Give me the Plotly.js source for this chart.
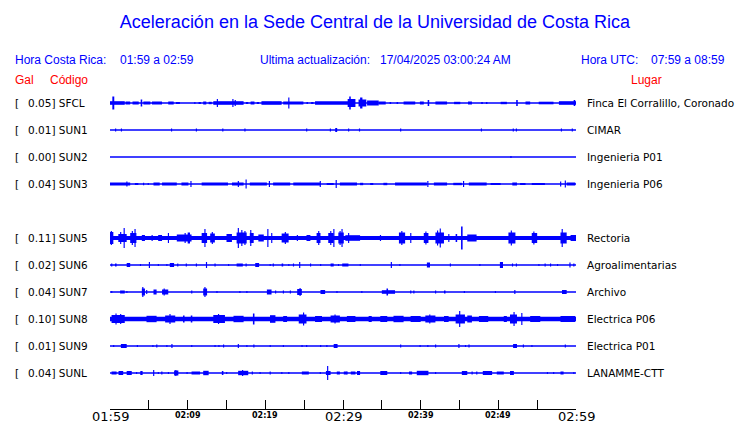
<!DOCTYPE html>
<html><head><meta charset="utf-8">
<script src="https://cdn.plot.ly/plotly-3.0.1.min.js"></script>
<style>html,body{margin:0;padding:0;background:#fff}#chart{width:740px;height:423px}</style>
</head><body><div id="chart"></div>
<script>
// ---------- data ----------
const codes = ["SFCL","SUN1","SUN2","SUN3","SUN5","SUN6","SUN7","SUN8","SUN9","SUNL"];
const galValues = [0.05,0.01,0.00,0.04,0.11,0.02,0.04,0.10,0.01,0.04];
const places = ["Finca El Corralillo, Coronado","CIMAR","Ingenieria P01","Ingenieria P06","Rectoria","Agroalimentarias","Archivo","Electrica P06","Electrica P01","LANAMME-CTT"];
const tickMinutes = [0,5,10,15,20,25,30,35,40,45,50,55,60];
const tickLabels = ["01:59","","02:09","","02:19","","02:29","","02:39","","02:49","","02:59"];
const majorLabels = ["01:59","02:29","02:59"];

// envelope segments: [start minute, end minute, half amplitude]
const sfcl = [[0,1.9,1.8],[0.3,0.55,6.5],[2.0,2.6,1.5],[2.9,3.7,1.5],[3.95,4.15,3.5],[4.3,5.2,1.5],[5.4,6.7,1.5],[7.5,8.2,1.5],[8.5,9.0,1],[10.85,11.0,1],[11.4,11.7,1],[12.0,12.4,1.5],[12.7,13.1,1.2],[13.3,17.2,1.8],[13.75,13.9,4],[15.75,15.9,4],[16.05,16.2,3],[17.5,17.8,1],[18.1,18.6,1.5],[18.9,19.2,1],[19.5,22.1,1.8],[22.3,24.9,1.5],[22.95,23.1,5.5],[25.3,25.5,1],[25.9,26.2,1],[26.4,31,1.8],[30.6,31.6,4],[30.8,31.0,6.5],[32.0,33.0,3.5],[32.2,32.5,5.5],[33.1,34.6,2.5],[34.6,35.5,1.5],[36.0,36.2,1],[36.9,37.1,1],[37.8,39.3,1.5],[39.9,40.4,1.5],[40.9,41.1,3],[41.9,43.4,1.5],[44.3,45.1,1.2],[46.1,46.6,1.5],[47.8,48.0,1],[48.4,48.6,1],[50.3,51.1,1.2],[52.3,52.5,3],[53.5,54.1,1.5],[55.2,57.1,1.3],[57.8,60,1.8],[59.7,59.9,3]];
const sun1 = [[0.65,0.8,1.5],[1.4,1.55,1.5],[7.85,8.0,1.5],[11.05,11.2,1.5],[14.45,14.6,1.5],[17.3,17.45,1.5],[25.25,25.4,1.5],[28.3,28.45,1.5],[29.0,29.25,2],[30.65,30.8,1.5],[32.05,32.2,1.5],[37.35,37.5,1.5],[47.75,47.9,1.5],[51.85,52.0,1.5],[52.25,52.4,1.5],[58.05,58.2,1.5],[59.45,59.6,1.5]];
const sun2 = [[51.55,51.7,1]];
const sun3 = [[0,2.6,1.5],[2.1,2.25,2.5],[3.2,3.65,1],[4.25,4.4,1.2],[4.85,5.0,1],[5.6,6.4,1.5],[6.7,8.6,1.5],[9.2,10.1,1.5],[10.35,10.5,3],[11.8,15.2,1.5],[15.7,17.2,1.5],[16.45,16.6,3],[17.45,17.6,4.5],[18.0,20.2,1.5],[20.45,20.6,3],[21.0,23.2,1.5],[23.6,27.1,1.5],[27.0,27.15,3],[27.9,28.8,1],[29.05,29.2,4],[29.6,31.8,1.5],[32.2,32.6,1.2],[33.5,33.9,1],[35.2,35.7,1.2],[36.7,40.8,1.5],[40.85,41.0,3],[41.7,43.4,1.5],[44.2,45.3,1.2],[45.45,45.6,3],[46.2,48.5,1.5],[49.0,50.3,1],[51.8,52.4,1.5],[52.8,53.5,1],[54.3,56.0,1],[57.95,58.1,2.5],[58.55,58.7,3.5],[58.8,59.9,1.5]];
const sun5 = [[0,60,2.0],[0,0.43,6],[0.1,0.25,7],[1.07,2.15,4],[1.75,1.9,10],[1.3,1.45,6],[2.6,3.4,5],[3.15,3.3,9],[2.8,2.95,7],[4.1,4.5,3],[5.35,5.5,3],[6.2,6.7,3],[7.45,7.6,5],[8.6,10.5,3.5],[9.6,9.75,5],[10.0,10.3,5.5],[11.8,12.5,5],[12.15,12.3,9],[12.9,13.5,4.5],[13.1,13.25,6],[15.0,15.7,4],[16.3,17.6,5.5],[16.45,16.6,10],[16.9,17.05,8],[17.3,17.45,7],[18.0,18.5,5],[18.05,18.2,8],[19.1,19.8,3.5],[20.25,20.4,9],[20.75,20.9,5],[22.1,23.0,4.5],[22.5,22.65,6],[24.05,24.2,3],[25.3,25.8,3],[26.6,27.1,5],[26.8,26.95,7],[28.1,28.8,5],[28.75,28.9,9],[28.35,28.5,7],[29.4,30.1,5.5],[29.8,29.95,9],[29.55,29.7,7],[30.65,30.8,5],[30.3,32.2,2.8],[34.75,34.9,3],[37.2,38.0,5.5],[37.5,37.65,7],[38.65,38.8,5],[40.4,41.0,5],[40.6,40.75,6.5],[41.9,43.0,5.5],[42.45,42.6,9.5],[42.1,42.25,7.5],[43.55,43.7,4],[44.5,44.7,4],[45.2,45.4,11.5],[46.0,47.2,3.5],[51.3,52.2,5.5],[51.6,51.75,7.5],[54.3,55.0,5],[54.5,54.65,6.5],[58.0,58.8,5.5],[58.15,58.3,9],[59.3,60,3]];
const sun6 = [[0.15,0.3,1.5],[0.65,0.85,1.5],[2.15,2.6,2],[3.85,4.0,1],[5.0,5.15,3],[6.15,6.3,1],[7.25,7.4,1],[7.7,8.25,2],[8.65,8.8,1.5],[9.75,9.9,1.5],[11.05,11.2,1.5],[12.35,12.5,3],[13.45,13.6,1.5],[15.2,15.35,1],[16.3,17.1,1.5],[17.45,17.6,1.5],[18.7,19.2,2],[20.55,20.7,1],[20.95,21.1,1.5],[22.1,22.3,1.5],[22.95,23.1,1],[23.55,23.7,1.5],[24.35,24.5,3],[25.75,25.9,1.5],[27.05,27.2,1],[28.4,28.8,1.5],[29.35,29.5,1],[29.9,30.7,1.5],[32.15,32.3,1],[36.15,36.3,3],[37.25,37.4,1],[40.8,41.2,2.5],[43.75,43.9,1.5],[47.55,47.7,1],[50.2,50.6,3],[51.75,51.9,1.5],[52.25,52.4,1.5],[55.15,55.3,1],[55.95,56.1,1.5],[56.65,56.8,1.5],[57.55,57.7,1],[59.15,59.3,2.5],[59.65,59.8,1.5]];
const sun7 = [[0.15,0.3,1],[1.3,1.9,1.5],[2.1,2.25,1],[4.1,4.5,3.5],[4.15,4.3,5],[4.65,4.8,2],[5.6,6.0,2.5],[6.7,7.5,2.5],[6.9,7.05,3.5],[10.45,10.6,1.5],[12.0,12.5,3.5],[12.15,12.3,5],[13.7,13.85,1],[16.65,16.8,1],[17.55,17.7,1],[20.2,20.8,2.5],[21.25,21.4,1.5],[22.25,22.4,1.5],[23.15,23.3,1.5],[24.1,24.7,3],[24.4,24.55,4],[27.1,27.7,2],[29.15,29.3,1],[32.35,32.5,1],[35.0,36.7,1.8],[35.6,35.8,3.5],[38.65,38.8,1.5],[39.05,39.2,1.5],[41.85,42.0,1.5],[43.0,43.2,1.5],[45.55,45.7,1],[49.55,49.7,1],[52.05,52.2,2],[58.2,58.8,2]];
const sun8 = [[0,60,2.3],[0.2,1.9,4],[0.7,0.85,5.5],[1.3,1.45,5],[4.7,6.0,3.2],[7.1,8.4,3.5],[7.65,7.8,5],[9.4,9.6,3.5],[10.4,10.6,3.5],[13.3,14.8,4],[13.9,14.05,5],[15.9,17.2,3.2],[18.4,18.6,5.5],[20.6,21.3,3.8],[22.3,22.8,3],[24.3,25.3,4.5],[24.85,25.0,6.5],[26.4,27.3,3],[28.4,29.6,3.5],[28.9,29.05,4.5],[30.5,31.6,3],[33.3,33.7,3],[34.8,35.7,3],[36.5,37.8,3.2],[38.7,40.0,3],[40.6,41.9,3.5],[41.1,41.25,4.5],[43.0,43.6,3],[44.5,45.7,4.5],[44.95,45.1,8],[46.0,46.6,3.5],[47.5,48.7,3],[50.7,51.1,3],[51.5,52.4,4.5],[51.95,52.1,7],[52.95,53.1,6],[54.1,55.4,3],[58.0,59.9,3]];
const sun9 = [[0.4,0.55,1],[1.4,2.15,2],[3.45,3.6,1],[5.45,5.6,1],[5.95,6.1,1.5],[7.25,7.4,1],[7.9,8.05,2],[10.45,10.6,1],[13.45,13.6,1],[13.95,14.1,1],[14.55,14.7,1.5],[16.45,16.6,2],[17.55,17.7,1],[18.45,18.6,1.5],[20.55,20.7,1],[22.25,22.4,1],[24.65,24.8,1],[25.25,25.4,1],[27.05,27.2,1],[27.85,28.0,1],[28.8,29.3,2],[37.35,37.5,1.5],[39.85,40.0,1],[40.85,41.0,1],[41.85,42.0,1.5],[44.85,45.0,2],[45.7,45.85,1],[46.15,46.3,1.5],[51.9,52.4,2],[53.15,53.3,1.5],[54.25,54.4,1],[58.55,58.7,1.5]];
const sunl = [[0.2,0.85,1.5],[1.1,1.7,2],[2.15,2.8,2],[3.35,3.5,1],[3.9,4.2,2],[5.55,5.7,3],[6.15,6.3,1],[6.6,6.75,1.5],[7.45,7.6,1],[8.25,8.8,2.5],[8.4,8.55,3],[9.85,10.0,1],[10.5,11.6,1.5],[12.0,12.7,2.2],[14.4,14.6,2],[14.95,15.1,1],[16.5,17.8,2.2],[17.0,17.15,3],[18.25,18.4,1.5],[19.25,19.4,1],[20.55,20.7,1.5],[22.05,22.2,1],[22.95,23.1,1],[24.7,25.6,1.5],[27.0,27.15,1],[27.8,28.4,2],[27.95,28.1,7],[29.2,29.6,1.5],[30.45,30.6,1.5],[30.1,30.5,1.5],[31.0,31.6,1.5],[31.8,32.2,2],[34.8,35.7,2],[37.35,37.5,1],[38.5,38.9,1.5],[39.5,41.0,2.2],[41.85,42.0,1],[45.3,46.0,2],[46.55,46.7,1.5],[47.15,47.3,1.5],[48.0,49.2,2],[49.8,50.7,1.5],[51.5,52.0,2],[56.25,56.4,1],[57.05,57.2,1],[58.0,58.4,1.5],[59.65,59.8,1]];
const stationSegments = [sfcl,sun1,sun2,sun3,sun5,sun6,sun7,sun8,sun9,sunl];

// ---------- layout geometry ----------
const PLOT_L = 110, PLOT_R = 576, PLOT_T = 90, PLOT_B = 409;
const ROW_PX = 27, FIRST_ROW_PX = 103;
const pw = PLOT_R - PLOT_L, ph = PLOT_B - PLOT_T;
const yTop = -(FIRST_ROW_PX - PLOT_T) / ROW_PX;
const yBot = yTop + ph / ROW_PX;
const rowOf = i => i + (i >= 4 ? 1 : 0); // SUN4 slot is empty
const px2x = p => (p - PLOT_L) / pw;
const px2y = p => (PLOT_B - p) / ph;
const BLUE = "#0000ff";

const traces = [];
stationSegments.forEach((segs, i) => {
  const r = rowOf(i);
  traces.push({type:"scatter", mode:"lines", x:[0,60], y:[r,r], line:{color:BLUE, width:1.5}, hoverinfo:"skip", showlegend:false});
  traces.push({
    type:"bar",
    x: segs.map(s => (s[0]+s[1])/2),
    width: segs.map(s => s[1]-s[0]),
    base: segs.map(s => r - s[2]/ROW_PX),
    y: segs.map(s => 2*s[2]/ROW_PX),
    marker:{color:BLUE, line:{width:0}},
    hoverinfo:"skip", showlegend:false
  });
});

const ann = [];
function txt(text, px, py, color, size, family, anchor) {
  ann.push({text, x: px2x(px), y: px2y(py), xref:"paper", yref:"paper",
    xanchor: anchor || "left", yanchor:"middle", showarrow:false,
    font:{family: family || "Liberation Sans, Arial, sans-serif", size: size || 12, color: color || BLUE}});
}
txt("Hora Costa Rica:", 13, 60);
txt("01:59 a 02:59", 118, 60);
txt("Ultima actualización:", 258, 60);
txt("17/04/2025 03:00:24 AM", 378, 60);
txt("Hora UTC:", 579, 60);
txt("07:59 a 08:59", 649, 60);
txt("Gal", 13, 80, "#ff0000");
txt("Código", 48, 80, "#ff0000");
txt("Lugar", 629, 80, "#ff0000");
const DV = "DejaVu Sans, sans-serif";
codes.forEach((c, i) => {
  const py = FIRST_ROW_PX + rowOf(i) * ROW_PX;
  txt("[", 13, py, "#000", 10.5, DV);
  txt(galValues[i].toFixed(2) + "] " + c, 25.5, py, "#000", 10.5, DV);
  txt(places[i], 585, py, "#000", 10.5, DV);
});
// time labels under the axis
tickLabels.forEach((t, k) => {
  if (!t) return;
  const major = majorLabels.includes(t);
  ann.push({text: major ? t : "<b>" + t + "</b>", x: tickMinutes[k], xref:"x", y: px2y(major ? 416 : 415), yref:"paper",
    xanchor:"center", yanchor:"middle", showarrow:false,
    font:{family:DV, size: major ? 13 : 8, color:"#000"}});
});

const layout = {
  width:740, height:423,
  margin:{l:PLOT_L, r:740-PLOT_R, t:PLOT_T, b:423-PLOT_B, pad:0},
  paper_bgcolor:"#fff", plot_bgcolor:"#fff",
  barmode:"overlay",
  showlegend:false,
  title:{text:"Aceleración en la Sede Central de la Universidad de Costa Rica",
    x:375/740, xref:"container", xanchor:"center", y:1-22/423, yref:"container", yanchor:"middle",
    font:{family:"Liberation Sans, Arial, sans-serif", size:18, color:BLUE}},
  xaxis:{range:[0,60], showgrid:false, zeroline:false, showline:true, linecolor:"#000", linewidth:1,
    ticks:"inside", ticklen:9, tickcolor:"#000", tickwidth:1, tickmode:"array",
    tickvals:tickMinutes, showticklabels:false,
    automargin:false, fixedrange:true},
  yaxis:{range:[yBot, yTop], visible:false, showgrid:false, zeroline:false, automargin:false, fixedrange:true},
  annotations: ann
};
Plotly.newPlot("chart", traces, layout, {displayModeBar:false, staticPlot:true});
</script>
</body></html>
